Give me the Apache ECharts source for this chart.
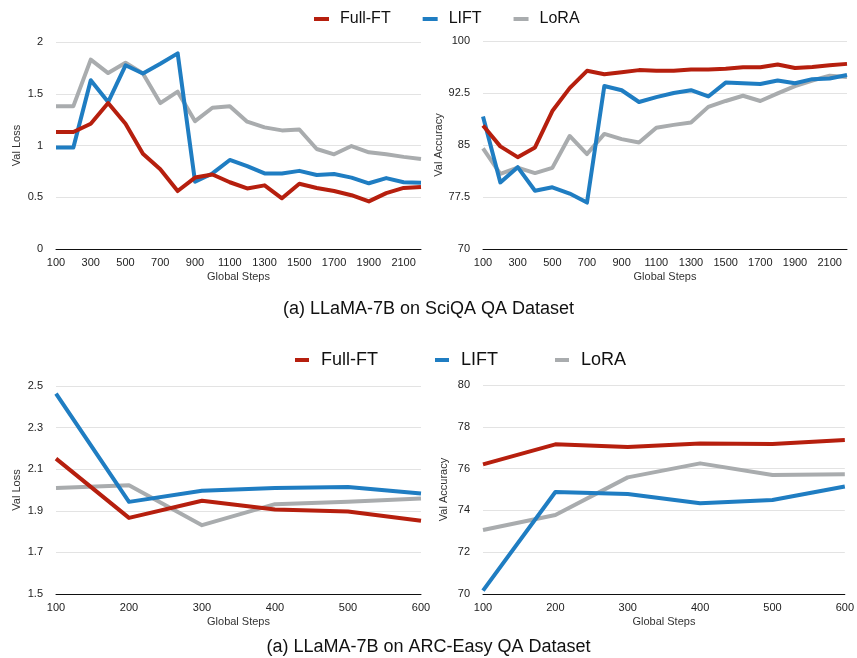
<!DOCTYPE html>
<html>
<head>
    <meta charset="utf-8">
    <title>LIFT vs Full-FT vs LoRA</title>
    <script src="https://cdn.jsdelivr.net/npm/echarts@6/dist/echarts.min.js"></script>
    <style>
        body { margin: 0; background: #fff; }
    </style>
</head>
<body>
    <div id="main" style="width: 857px;height:658px;"></div>

    <script type="text/javascript">
        // x axis steps
        var stepsSci = ['100', '200', '300', '400', '500', '600', '700', '800', '900', '1000', '1100',
            '1200', '1300', '1400', '1500', '1600', '1700', '1800', '1900', '2000', '2100', '2200'];
        var stepsArc = ['100', '200', '300', '400', '500', '600'];

        // SciQA - val loss
        var sciLossFull = [1.13, 1.13, 1.21, 1.41, 1.21, 0.92, 0.77, 0.56, 0.69, 0.72, 0.645,
            0.585, 0.615, 0.49, 0.63, 0.59, 0.56, 0.52, 0.46, 0.54, 0.59, 0.60];
        var sciLossLift = [0.98, 0.98, 1.63, 1.42, 1.775, 1.695, 1.79, 1.89, 0.65, 0.73, 0.86,
            0.80, 0.73, 0.73, 0.755, 0.715, 0.725, 0.69, 0.635, 0.685, 0.645, 0.64];
        var sciLossLora = [1.38, 1.38, 1.83, 1.70, 1.80, 1.695, 1.41, 1.52, 1.235, 1.365, 1.38,
            1.23, 1.175, 1.146, 1.155, 0.966, 0.915, 0.995, 0.934, 0.915, 0.89, 0.87];

        // SciQA - val accuracy
        var sciAccFull = [87.8, 84.8, 83.25, 84.65, 89.9, 93.2, 95.7, 95.2, 95.5, 95.8, 95.7,
            95.7, 95.9, 95.9, 96.0, 96.2, 96.2, 96.6, 96.1, 96.25, 96.5, 96.7];
        var sciAccLift = [89.1, 79.6, 81.8, 78.4, 78.9, 78.0, 76.7, 93.5, 92.9, 91.2, 91.9,
            92.5, 92.9, 92.0, 94.0, 93.9, 93.8, 94.3, 93.9, 94.5, 94.6, 95.1];
        var sciAccLora = [84.5, 80.85, 81.75, 80.95, 81.7, 86.3, 83.7, 86.6, 85.85, 85.35, 87.5,
            87.9, 88.25, 90.5, 91.35, 92.1, 91.35, 92.45, 93.5, 94.3, 95.0, 94.8];

        // ARC-Easy - val loss
        var arcLossFull = [2.151, 1.866, 1.948, 1.906, 1.897, 1.852];
        var arcLossLift = [2.463, 1.943, 1.996, 2.01, 2.014, 1.983];
        var arcLossLora = [2.01, 2.023, 1.831, 1.932, 1.943, 1.959];

        // ARC-Easy - val accuracy
        var arcAccFull = [76.2, 77.16, 77.03, 77.2, 77.18, 77.37];
        var arcAccLift = [70.16, 74.88, 74.78, 74.34, 74.5, 75.14];
        var arcAccLora = [73.06, 73.78, 75.58, 76.25, 75.69, 75.73];

        var names = ['Full-FT', 'LIFT', 'LoRA'];
        var colors = ['#b61f0e', '#1f7dc2', '#a9acae'];

        var dom = document.getElementById('main');
        var myChart = echarts.init(dom, null, { renderer: 'canvas' });
        var font = 'Liberation Sans, Arial, Helvetica, sans-serif';

        var grids = [
            { left: 56, top: 42, width: 365, height: 207 },
            { left: 483, top: 41, width: 364, height: 208 },
            { left: 56, top: 386, width: 365, height: 208 },
            { left: 483, top: 385, width: 364, height: 209 }
        ];

        function xAxis(idx, data, labelInterval) {
            return {
                type: 'category',
                gridIndex: idx,
                data: data,
                boundaryGap: false,
                name: 'Global Steps',
                nameLocation: 'middle',
                nameGap: 22,
                nameTextStyle: { fontFamily: font, fontSize: 11, color: '#333' },
                axisLine: { lineStyle: { color: '#111', width: 1 } },
                axisTick: { show: false },
                axisLabel: { interval: labelInterval, fontFamily: font, fontSize: 11, color: '#222', margin: 8 },
                splitLine: { show: false }
            };
        }

        function yAxis(idx, name, min, max, interval) {
            return {
                type: 'value',
                gridIndex: idx,
                min: min,
                max: max,
                interval: interval,
                name: name,
                nameLocation: 'middle',
                nameGap: 34,
                nameTextStyle: { fontFamily: font, fontSize: 11, color: '#333' },
                axisLine: { show: false },
                axisTick: { show: false },
                axisLabel: { fontFamily: font, fontSize: 11, color: '#222', margin: 13 },
                splitLine: { lineStyle: { color: '#e3e3e3', width: 1 } }
            };
        }

        function line(idx, k, values) {
            return {
                name: names[k],
                type: 'line',
                xAxisIndex: idx,
                yAxisIndex: idx,
                data: values,
                showSymbol: false,
                symbol: 'none',
                lineStyle: { color: colors[k], width: 4, join: 'round' },
                itemStyle: { color: colors[k] },
                z: k === 0 ? 5 : (k === 1 ? 4 : 3)
            };
        }

        var option = {
            animation: false,
            color: colors,
            title: [
                {
                    text: '(a) LLaMA-7B on SciQA QA Dataset',
                    left: 'center', top: 295,
                    textStyle: { fontFamily: font, fontSize: 18, fontWeight: 'normal', color: '#111' }
                },
                {
                    text: '(a) LLaMA-7B on ARC-Easy QA Dataset',
                    left: 'center', top: 633,
                    textStyle: { fontFamily: font, fontSize: 18, fontWeight: 'normal', color: '#111' }
                }
            ],
            legend: [
                {
                    data: names,
                    left: 309, top: 6,
                    itemWidth: 15, itemHeight: 4, itemGap: 32,
                    icon: 'rect',
                    textStyle: { fontFamily: font, fontSize: 16, color: '#111', padding: [0, 0, 0, 6] }
                },
                {
                    data: names,
                    left: 290, top: 346,
                    itemWidth: 14, itemHeight: 4, itemGap: 57,
                    icon: 'rect',
                    textStyle: { fontFamily: font, fontSize: 18, color: '#111', padding: [0, 0, 0, 7] }
                }
            ],
            grid: grids,
            xAxis: [
                xAxis(0, stepsSci, 1),
                xAxis(1, stepsSci, 1),
                xAxis(2, stepsArc, 0),
                xAxis(3, stepsArc, 0)
            ],
            yAxis: [
                yAxis(0, 'Val Loss', 0, 2, 0.5),
                yAxis(1, 'Val Accuracy', 70, 100, 7.5),
                yAxis(2, 'Val Loss', 1.5, 2.5, 0.2),
                yAxis(3, 'Val Accuracy', 70, 80, 2)
            ],
            series: [
                line(0, 2, sciLossLora), line(0, 1, sciLossLift), line(0, 0, sciLossFull),
                line(1, 2, sciAccLora), line(1, 1, sciAccLift), line(1, 0, sciAccFull),
                line(2, 2, arcLossLora), line(2, 1, arcLossLift), line(2, 0, arcLossFull),
                line(3, 2, arcAccLora), line(3, 1, arcAccLift), line(3, 0, arcAccFull)
            ]
        };

        if (option && typeof option === 'object') {
            myChart.setOption(option, true);
        }
    </script>
</body>
</html>
